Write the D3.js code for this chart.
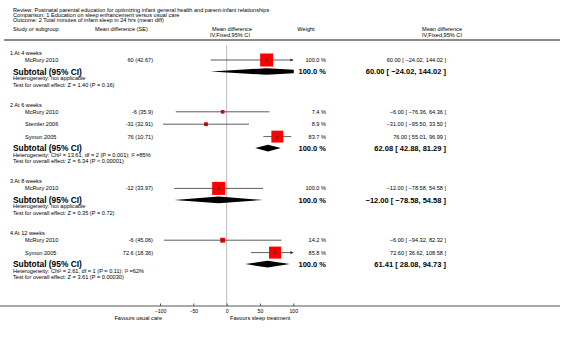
<!DOCTYPE html>
<html><head><meta charset="utf-8">
<script src="https://cdn.jsdelivr.net/npm/d3@7"></script>
<style>
body{margin:0;background:#fff;}
text{font-family:"Liberation Sans",Arial,sans-serif;fill:#000;}
</style></head>
<body><svg id="c" width="566" height="337"></svg>
<script>
// ---------- data ----------
const titleLines = [
  "Review:  Postnatal parental education for optimizing infant general health and parent-infant relationships",
  "Comparison:  1 Education on sleep enhancement versus usual care",
  "Outcome:  2 Total minutes of infant sleep in 24 hrs (mean diff)"
];
const groupLabels = ["1 At 4 weeks", "2 At 6 weeks", "3 At 8 weeks", "4 At 12 weeks"];
const studyGroup  = [0, 1, 1, 1, 2, 3, 3];
const studyNames  = ["McRury 2010", "McRury 2010", "Stemler 2006", "Symon 2005", "McRury 2010", "McRury 2010", "Symon 2005"];
const studyMD     = [60, -6, -31, 76, -12, -6, 72.6];
const studySE     = ["60 (42.67)", "-6 (35.9)", "-31 (32.91)", "76 (10.71)", "-12 (33.97)", "-6 (45.06)", "72.6 (18.36)"];
const studyLo     = [-24.02, -76.36, -95.50, 55.01, -78.58, -94.32, 36.62];
const studyHi     = [144.02, 64.36, 33.50, 96.99, 54.58, 82.32, 108.58];
const studyWeight = [100.0, 7.4, 8.9, 83.7, 100.0, 14.2, 85.8];
const subMD  = [60.00, 62.08, -12.00, 61.41];
const subLo  = [-24.02, 42.88, -78.58, 28.08];
const subHi  = [144.02, 81.29, 54.58, 94.73];
const hetText = [
  "Heterogeneity: not applicable",
  "Heterogeneity: Chi\u00B2 = 13.61, df = 2 (P = 0.001); I\u00B2 =85%",
  "Heterogeneity: not applicable",
  "Heterogeneity: Chi\u00B2 = 2.61, df = 1 (P = 0.11); I\u00B2 =62%"
];
const testText = [
  "Test for overall effect: Z = 1.40 (P = 0.16)",
  "Test for overall effect: Z = 6.34 (P < 0.00001)",
  "Test for overall effect: Z = 0.35 (P = 0.72)",
  "Test for overall effect: Z = 3.61 (P = 0.00030)"
];
const axisTicks = [-100, -50, 0, 50, 100];
const favourLeft = "Favours usual care";
const favourRight = "Favours sleep treatment";

// ---------- layout ----------
const svg = d3.select("#c");
const x = d3.scaleLinear().domain([-100, 100]).range([160, 293.3]);
const fmt2 = d3.format(".2f");
const ciStr = (m, l, h) => `${fmt2(m)} [ ${fmt2(l)}, ${fmt2(h)} ]`;
const SMALL = 5.6, BOLDLAB = 8.4, BOLDNUM = 7.5;

function txt(xp, y, s, size, anchor, bold) {
  return svg.append("text").attr("x", xp).attr("y", y + size * 0.36)
    .attr("font-size", size).attr("text-anchor", anchor || "start")
    .attr("font-weight", bold ? "bold" : "normal").text(s);
}

// title
titleLines.forEach((t, i) => txt(13, 10 + i * 5, t, SMALL));
// headers
txt(13, 29, "Study or subgroup", SMALL);
txt(95, 29, "Mean difference (SE)", SMALL);
txt(232, 29, "Mean difference", SMALL, "middle");
txt(230, 35, "IV,Fixed,95% CI", SMALL, "middle");
txt(306, 29, "Weight", SMALL, "middle");
txt(442, 29, "Mean difference", SMALL, "middle");
txt(442, 35, "IV,Fixed,95% CI", SMALL, "middle");
svg.append("line").attr("x1", 4).attr("x2", 560).attr("y1", 40).attr("y2", 40)
  .attr("stroke", "#666").attr("stroke-width", 1.3);

// rows
const rowsY = { header: [], study: [], sub: [], het: [], test: [] };
let y = 53;
groupLabels.forEach((g, gi) => {
  rowsY.header[gi] = y;
  let sy = y + 7;
  studyGroup.forEach((sg, si) => {
    if (sg === gi) { rowsY.study[si] = sy; sy += 12.4; }
  });
  const sub = sy - 12.4 + 11.5;
  rowsY.sub[gi] = sub;
  rowsY.het[gi] = sub + 6.5;
  rowsY.test[gi] = sub + 13;
  y = sub + 13 + 20.3;
});

// zero line
svg.append("line").attr("x1", x(0)).attr("x2", x(0)).attr("y1", 45).attr("y2", 306)
  .attr("stroke", "#bbb").attr("stroke-width", 1);

const clipId = "plotclip";
svg.append("clipPath").attr("id", clipId).append("rect")
  .attr("x", x(-100)).attr("y", 0).attr("width", x(100) - x(-100) + 0.5).attr("height", 337);

groupLabels.forEach((g, gi) => {
  txt(10, rowsY.header[gi], g, SMALL);
  txt(13, rowsY.sub[gi], "Subtotal (95% CI)", BOLDLAB, "start", true);
  txt(13, rowsY.het[gi], hetText[gi], SMALL);
  txt(13, rowsY.test[gi], testText[gi], SMALL);
  txt(326, rowsY.sub[gi], "100.0 %", BOLDNUM, "end", true);
  txt(446, rowsY.sub[gi], ciStr(subMD[gi], subLo[gi], subHi[gi]), BOLDNUM, "end", true);
  const yy = rowsY.sub[gi], h = 3.3;
  svg.append("polygon").attr("clip-path", `url(#${clipId})`)
    .attr("points", [[x(subLo[gi]), yy], [x(subMD[gi]), yy - h], [x(subHi[gi]), yy], [x(subMD[gi]), yy + h]].join(" "))
    .attr("fill", "#000");
});

studyNames.forEach((n, si) => {
  const yy = rowsY.study[si];
  txt(25, yy, n, SMALL);
  txt(153, yy, studySE[si], SMALL, "end");
  txt(326, yy, d3.format(".1f")(studyWeight[si]) + " %", SMALL, "end");
  txt(446, yy, ciStr(studyMD[si], studyLo[si], studyHi[si]), SMALL, "end");
  const lo = Math.max(studyLo[si], -100), hi = Math.min(studyHi[si], 100);
  svg.append("line").attr("x1", x(lo)).attr("x2", x(hi)).attr("y1", yy).attr("y2", yy)
    .attr("stroke", "#333").attr("stroke-width", 0.8);
  if (studyHi[si] > 100) {
    svg.append("path").attr("d", `M${x(100)},${yy} l-3,-1.6 l0,3.2 z`).attr("fill", "#333");
  }
  if (studyLo[si] < -100) {
    svg.append("path").attr("d", `M${x(-100)},${yy} l3,-1.6 l0,3.2 z`).attr("fill", "#333");
  }
  const s = Math.max(3.5, 13 * Math.sqrt(studyWeight[si] / 100));
  svg.append("rect").attr("x", x(studyMD[si]) - s / 2).attr("y", yy - s / 2)
    .attr("width", s).attr("height", s).attr("fill", "#ff0000");
  svg.append("line").attr("x1", x(studyMD[si])).attr("x2", x(studyMD[si]))
    .attr("y1", yy - 1.8).attr("y2", yy + 1.8).attr("stroke", "#333").attr("stroke-width", 0.6);
  svg.append("line").attr("x1", x(studyMD[si]) - 1.8).attr("x2", x(studyMD[si]) + 1.8)
    .attr("y1", yy).attr("y2", yy).attr("stroke", "#333").attr("stroke-width", 0.6);
});

// axis
const axY = 306;
svg.append("line").attr("x1", 0).attr("x2", 560).attr("y1", axY).attr("y2", axY)
  .attr("stroke", "#555").attr("stroke-width", 1);
const ax = d3.axisTop(x).tickValues(axisTicks).tickSize(2.5).tickFormat(d3.format("d"));
const axG = svg.append("g").attr("transform", `translate(0,${axY})`).call(ax);
axG.select(".domain").remove();
axG.selectAll(".tick line").attr("stroke", "#555");
axG.selectAll(".tick text").attr("y", 6.5).attr("dy", 0).attr("font-size", 5.2)
  .attr("font-family", "Liberation Sans, Arial, sans-serif");
txt(162, 318, favourLeft, SMALL, "end");
txt(230, 318, favourRight, SMALL, "start");
</script></body></html>
